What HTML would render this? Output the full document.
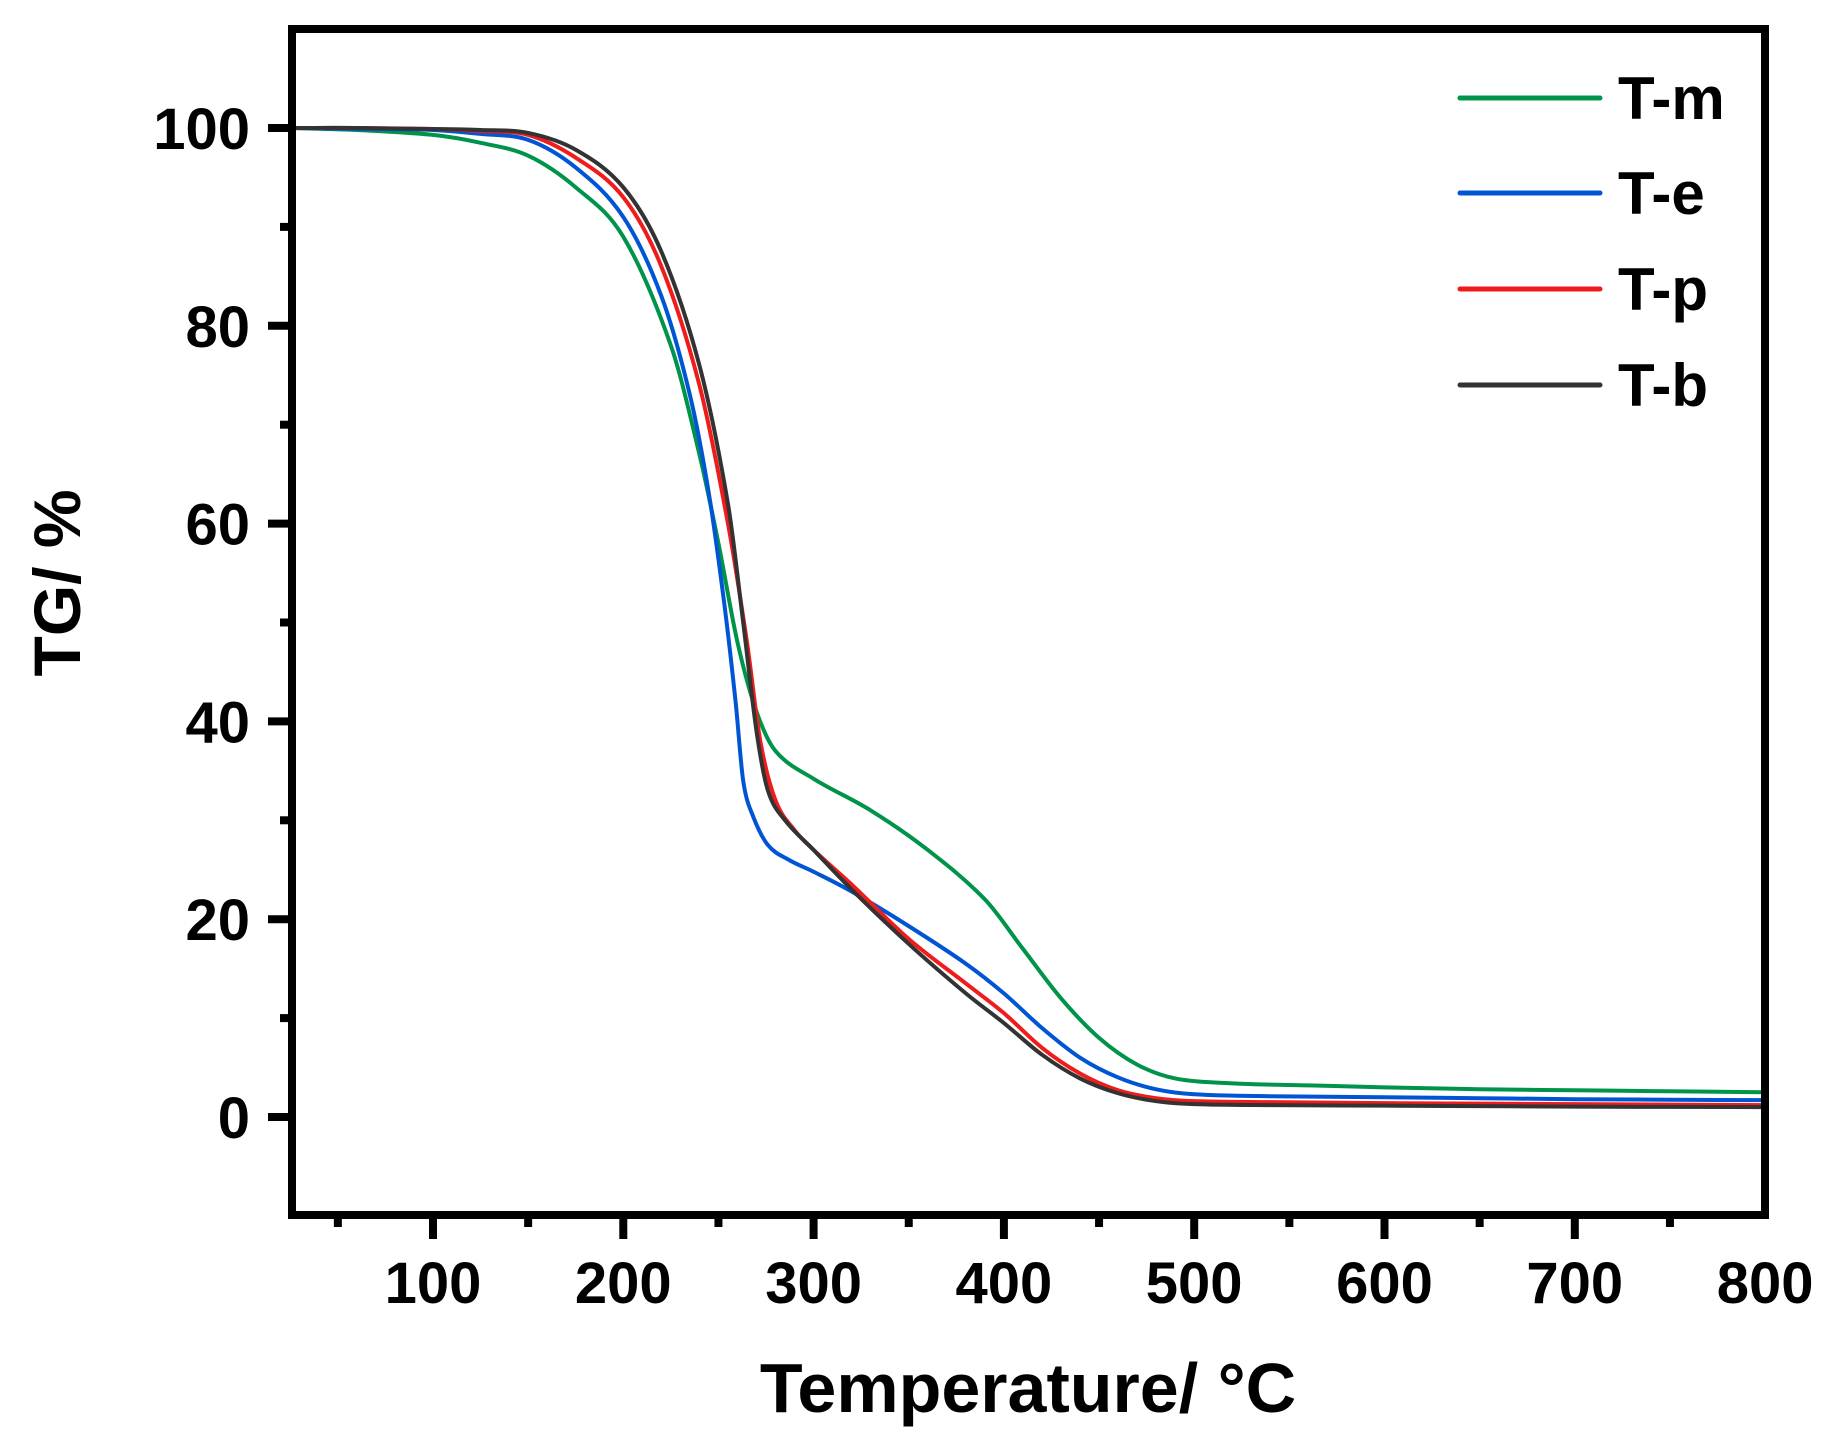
<!DOCTYPE html>
<html><head><meta charset="utf-8"><style>
html,body{margin:0;padding:0;background:#fff}
svg{display:block}
text{font-family:"Liberation Sans",Arial,sans-serif;font-weight:bold;fill:#000}
</style></head><body>
<svg id="s" width="1830" height="1451" viewBox="0 0 1830 1451">
<g id="curves" fill="none" stroke-width="4" stroke-linejoin="round" stroke-linecap="round"></g>
<g stroke="#000" stroke-width="8" fill="none">
<rect x="292" y="29" width="1473" height="1186"/>
</g>
<g id="ticks" stroke="#000" stroke-width="8"></g>
<g id="labels" font-size="58"></g>
<g font-size="60">
<line x1="1460" y1="98" x2="1600" y2="98" stroke="#00944a" stroke-width="5" stroke-linecap="round"/>
<line x1="1460" y1="193" x2="1600" y2="193" stroke="#0055d4" stroke-width="5" stroke-linecap="round"/>
<line x1="1460" y1="289" x2="1600" y2="289" stroke="#f01c1c" stroke-width="5" stroke-linecap="round"/>
<line x1="1460" y1="385" x2="1600" y2="385" stroke="#333" stroke-width="5" stroke-linecap="round"/>
<text x="1618" y="119">T-m</text>
<text x="1618" y="214">T-e</text>
<text x="1618" y="310">T-p</text>
<text x="1618" y="406">T-b</text>
</g>
<text x="1028" y="1412" font-size="70" text-anchor="middle">Temperature/ °C</text>
<text transform="translate(80,583) rotate(-90)" font-size="66" text-anchor="middle">TG/ %</text>
</svg>
<script>
var X=function(t){return 433+(t-100)*1.903;};
var Y=function(v){return 1117-v*9.89;};
var ns="http://www.w3.org/2000/svg";
var tk=document.getElementById('ticks'),lb=document.getElementById('labels');
function el(p,tag,a,txt){var e=document.createElementNS(ns,tag);for(var k in a)e.setAttribute(k,a[k]);if(txt)e.textContent=txt;p.appendChild(e);}
for(var t=50;t<=800;t+=50){var x=X(t),maj=t%100==0;
 if(t<800)el(tk,'line',{x1:x,y1:1215,x2:x,y2:maj?1239:1227});
 if(maj)el(lb,'text',{x:x,y:1303,'text-anchor':'middle'},String(t));}
for(var v=-10;v<=110;v+=10){var y=Y(v),maj=v%20==0;
 if(v>-10&&v<110)el(tk,'line',{x1:292,y1:y,x2:maj?268:280,y2:y});
 if(maj&&v>=0&&v<=100)el(lb,'text',{x:250,y:y+21,'text-anchor':'end'},String(v));}
var D={
'#00944a':[[26,100],[60,99.8],[100,99.3],[125,98.5],[150,97.2],[175,94],[200,89],[225,78],[240,67],[250,58],[260,48],[270,41],[280,37],[300,34.2],[330,31],[360,27],[390,22],[410,17],[430,12],[450,8],[470,5.3],[490,3.9],[520,3.4],[560,3.2],[600,3],[650,2.8],[700,2.7],[750,2.6],[800,2.5]],
'#0055d4':[[26,100],[60,99.9],[100,99.8],[125,99.4],[150,98.8],[175,96],[200,91],[220,83],[235,73],[245,63],[253,52],[259,42],[263,34],[268,30.5],[276,27.5],[287,26],[300,24.8],[320,22.8],[350,19.3],[380,15.5],[400,12.5],[420,9],[440,6],[460,4],[480,2.8],[500,2.3],[540,2.1],[600,2],[650,1.9],[700,1.8],[750,1.75],[800,1.7]],
'#f01c1c':[[26,100],[60,100],[100,99.9],[125,99.7],[150,99.3],[175,97],[200,93],[220,86],[240,74],[255,60],[265,48],[272,38],[280,32],[290,29],[300,27],[320,23.5],[350,18],[380,13.5],[400,10.5],[420,7],[440,4.4],[460,2.7],[480,1.9],[500,1.6],[540,1.5],[600,1.4],[650,1.35],[700,1.3],[750,1.25],[800,1.2]],
'#333333':[[26,100],[60,100],[100,99.9],[125,99.8],[150,99.5],[175,97.8],[200,94],[220,87.5],[240,76],[255,62],[263,50],[270,39],[276,33],[285,30],[300,27],[320,23],[350,17.5],[380,12.5],[400,9.5],[420,6.3],[440,3.9],[460,2.4],[480,1.6],[500,1.3],[540,1.2],[600,1.15],[650,1.1],[700,1.05],[750,1.02],[800,1]]};
var g=document.getElementById('curves');
for(var c in D){var p=D[c].map(function(a){return [X(a[0]),Y(a[1])];});
 var d='M'+p[0][0]+','+p[0][1];
 for(var i=0;i<p.length-1;i++){var p0=p[Math.max(i-1,0)],p1=p[i],p2=p[i+1],p3=p[Math.min(i+2,p.length-1)];
  var h=p2[0]-p1[0];
  var t1=(p2[1]-p0[1])/(p2[0]-p0[0]||1),t2=(p3[1]-p1[1])/(p3[0]-p1[0]||1);
  d+=' C'+(p1[0]+h/3)+','+(p1[1]+t1*h/3)+' '+(p2[0]-h/3)+','+(p2[1]-t2*h/3)+' '+p2[0]+','+p2[1];}
 el(g,'path',{d:d,stroke:c});}
</script>
</body></html>
